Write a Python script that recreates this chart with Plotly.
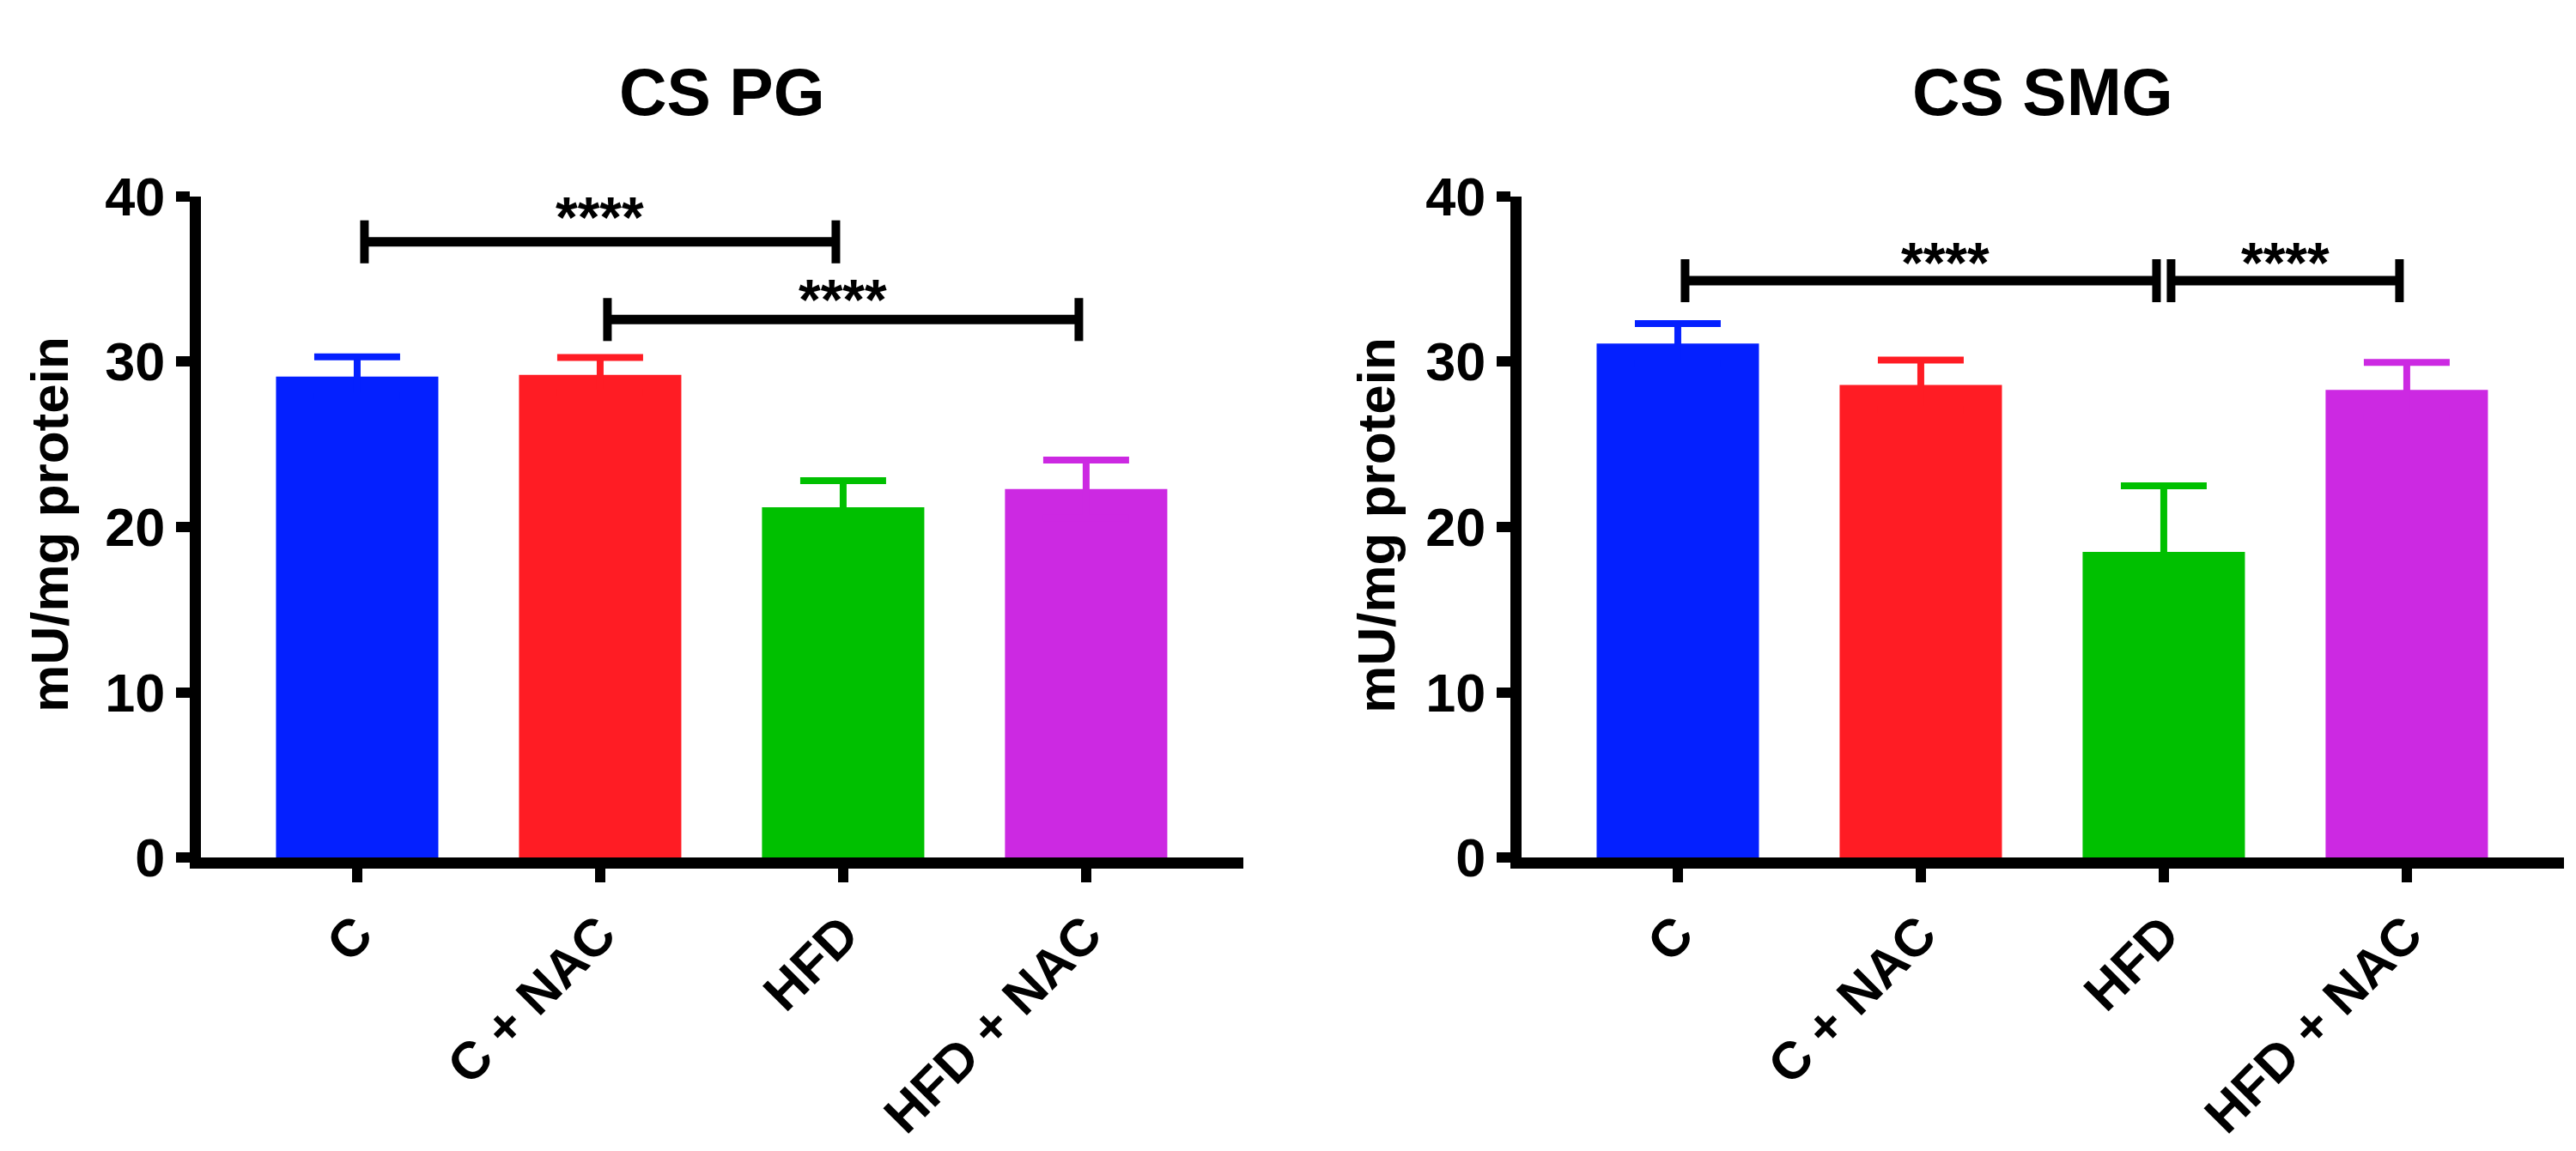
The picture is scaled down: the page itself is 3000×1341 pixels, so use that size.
import plotly.graph_objects as go

groups = ["C", "C + NAC", "HFD", "HFD + NAC"]
colors = ["#0420FF", "#FF1C24", "#00C000", "#CC29E2"]

# CS PG (left panel)
pg_mean = [29.1, 29.2, 21.2, 22.3]
pg_sem = [1.2, 1.05, 1.6, 1.75]
pg_pairs = [(0, 2), (1, 3)]
pg_pair_y = [37.25, 32.55]
pg_label_x = [1.0, 2.0]
pg_label_y = [39.2, 34.2]
pg_pair_label = ["****", "****"]

# CS SMG (right panel)
smg_mean = [31.1, 28.6, 18.5, 28.3]
smg_sem = [1.2, 1.5, 4.0, 1.65]
smg_pairs = [(0, 2), (2, 3)]
smg_pair_y = [34.9, 34.9]
smg_label_x = [1.1, 2.5]
smg_label_y = [36.45, 36.45]
smg_pair_label = ["****", "****"]

y_ticks = [0, 10, 20, 30, 40]

FONT = "Liberation Sans, Arial, sans-serif"
W, H = 3000, 1341

fig = go.Figure()

panels = [
    ("x", "y", pg_mean, pg_sem, pg_pairs, pg_pair_y, pg_label_x, pg_label_y, pg_pair_label),
    ("x2", "y2", smg_mean, smg_sem, smg_pairs, smg_pair_y, smg_label_x, smg_label_y, smg_pair_label),
]

shapes = []
annotations = []
for xa, ya, means, sems, pairs, pair_y, lab_x, lab_y, labels in panels:
    for g, m, s, c in zip(groups, means, sems, colors):
        # symmetric bar: the lower half sits inside the bar in the same colour
        fig.add_trace(go.Bar(
            x=[g], y=[m], xaxis=xa, yaxis=ya, width=0.668,
            marker=dict(color=c, line=dict(width=0)),
            error_y=dict(type="data", array=[s], color=c, thickness=8, width=50),
            showlegend=False,
        ))
    # significance brackets
    for (a, b), yy, lx, ly, lab in zip(pairs, pair_y, lab_x, lab_y, labels):
        x0, x1 = a + 0.03, b - 0.03
        shapes.append(dict(type="line", xref=xa, yref=ya, x0=x0, x1=x1, y0=yy, y1=yy,
                           line=dict(color="black", width=11)))
        for xe in (x0, x1):
            shapes.append(dict(type="line", xref=xa, yref=ya, x0=xe, x1=xe,
                               y0=yy - 1.3, y1=yy + 1.3, line=dict(color="black", width=10)))
        annotations.append(dict(xref=xa, yref=ya, x=lx, y=ly - 0.45, text=lab,
                                showarrow=False, xanchor="center", yanchor="middle",
                                font=dict(family=FONT, size=66, color="black", weight="bold")))

titles = [("CS PG", 833 / W, 50 / W), ("CS SMG", 2371 / W, 1595 / W)]
for t, tx, yx in titles:
    annotations.append(dict(xref="paper", yref="paper", x=tx, y=1 - 68 / H, text=t,
                            showarrow=False, xanchor="center", yanchor="middle",
                            font=dict(family=FONT, size=77, color="black", weight="bold")))
    annotations.append(dict(xref="paper", yref="paper", x=yx, y=1 - 600 / H, text="mU/mg protein",
                            textangle=-90, showarrow=False, xanchor="center", yanchor="middle",
                            font=dict(family=FONT, size=62, color="black", weight="bold")))

tickfont = dict(family=FONT, size=63, color="black", weight="bold")
xtickfont = dict(family=FONT, size=61, color="black", weight="bold")
xcommon = dict(type="category", range=[-0.643, 3.647], showline=True, linewidth=13, linecolor="black",
               ticks="outside", ticklen=16, tickwidth=12, tickcolor="black", tickangle=-45,
               tickfont=xtickfont, showgrid=False, zeroline=False, fixedrange=True)
ycommon = dict(range=[0, 40], tickvals=y_ticks, showline=True, linewidth=13, linecolor="black",
               ticks="outside", ticklen=16, tickwidth=12, tickcolor="black",
               tickfont=tickfont, showgrid=False, zeroline=False, fixedrange=True)

ydom = [1 - 1009 / H, 1 - 196 / H]
fig.update_layout(
    width=W, height=H,
    margin=dict(l=0, r=0, t=0, b=0),
    paper_bgcolor="white", plot_bgcolor="white",
    barmode="overlay",
    xaxis=dict(domain=[226 / W, 1440 / W], anchor="y", **xcommon),
    yaxis=dict(domain=ydom, anchor="x", **ycommon),
    xaxis2=dict(domain=[1764 / W, 2978 / W], anchor="y2", **xcommon),
    yaxis2=dict(domain=ydom, anchor="x2", **ycommon),
    shapes=shapes,
    annotations=annotations,
)

fig.write_html("out.html")
